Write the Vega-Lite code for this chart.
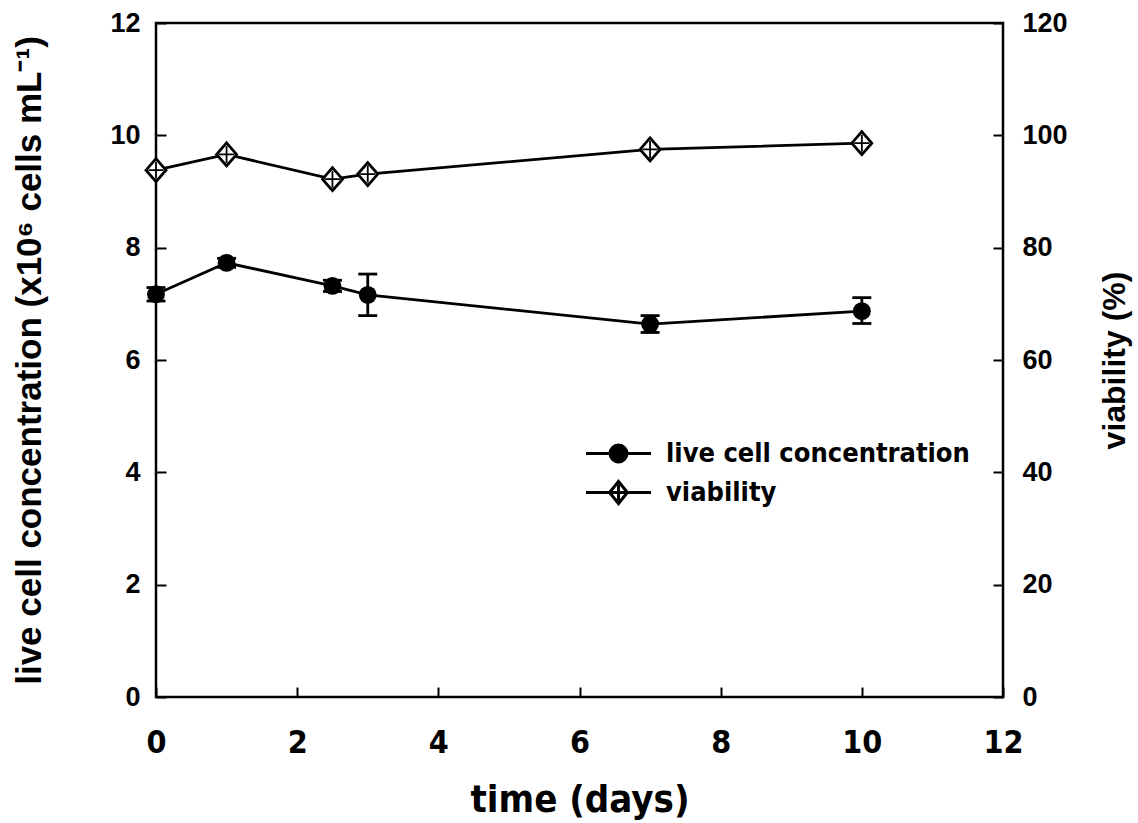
{
  "$schema": "https://vega.github.io/schema/vega-lite/v6.json",
  "width": 847,
  "height": 674,
  "autosize": "none",
  "padding": {"left": 156, "top": 23, "right": 135, "bottom": 126},
  "background": "white",
  "config": {
    "view": {"stroke": "black", "strokeWidth": 2.5},
    "axis": {
      "domain": false,
      "grid": false,
      "ticks": true,
      "tickColor": "black",
      "tickWidth": 2,
      "tickSize": -10,
      "labelFlush": false,
      "labelColor": "black",
      "titleColor": "black",
      "labelFont": "Liberation Sans",
      "labelFontWeight": "bold",
      "labelFontSize": 27,
      "titleFont": "Liberation Sans",
      "titleFontWeight": "bold",
      "titleFontSize": 35,
      "format": "d"
    },
    "legend": {
      "orient": "none",
      "legendX": 445,
      "legendY": 413,
      "padding": 0,
      "symbolSize": 1024,
      "symbolStrokeColor": "black",
      "symbolStrokeWidth": 3,
      "symbolOpacity": 1,
      "labelOffset": 30,
      "rowPadding": 7,
      "labelFont": "DejaVu Sans Condensed, Liberation Sans",
      "labelFontWeight": "bold",
      "labelFontSize": 27,
      "labelColor": "black",
      "labelLimit": 0
    }
  },
  "datasets": {
    "culture": [
      {"day": 0, "conc": 7.17, "conc_lo": 7.05, "conc_hi": 7.29, "viab": 93.8},
      {"day": 1, "conc": 7.73, "conc_lo": 7.65, "conc_hi": 7.81, "viab": 96.6},
      {"day": 2.5, "conc": 7.32, "conc_lo": 7.22, "conc_hi": 7.42, "viab": 92.2},
      {"day": 3, "conc": 7.16, "conc_lo": 6.79, "conc_hi": 7.53, "viab": 93.1},
      {"day": 7, "conc": 6.64, "conc_lo": 6.49, "conc_hi": 6.79, "viab": 97.5},
      {"day": 10, "conc": 6.87, "conc_lo": 6.65, "conc_hi": 7.11, "viab": 98.6}
    ],
    "series": [
      {"series": "live cell concentration"},
      {"series": "viability"}
    ]
  },
  "data": {"name": "culture"},
  "encoding": {
    "x": {
      "field": "day",
      "type": "quantitative",
      "scale": {"domain": [0, 12], "nice": false, "zero": false},
      "axis": {
        "title": "time (days)",
        "values": [0, 2, 4, 6, 8, 10, 12],
        "labelFont": "DejaVu Sans Condensed, Liberation Sans",
        "labelFontSize": 32,
        "labelPadding": 40,
        "titleFont": "DejaVu Sans Condensed, Liberation Sans",
        "titleFontSize": 38,
        "titlePadding": 23
      }
    }
  },
  "layer": [
    {
      "layer": [
        {
          "mark": {"type": "line", "color": "black", "strokeWidth": 2.8},
          "encoding": {
            "y": {
              "field": "conc",
              "type": "quantitative",
              "title": "live cell concentration (x10⁶ cells mL⁻¹)",
              "scale": {"domain": [0, 12], "nice": false},
              "axis": {
                "orient": "left",
                "values": [0, 2, 4, 6, 8, 10, 12],
                "labelPadding": 26,
                "titlePadding": 62
              }
            }
          }
        },
        {
          "mark": {
            "type": "errorbar",
            "color": "black",
            "opacity": 1,
            "ticks": {"size": 19, "thickness": 2.8, "color": "black", "opacity": 1},
            "rule": {"strokeWidth": 2.8, "color": "black", "opacity": 1}
          },
          "encoding": {
            "y": {"field": "conc_lo", "type": "quantitative", "title": "live cell concentration (x10⁶ cells mL⁻¹)"},
            "y2": {"field": "conc_hi"}
          }
        },
        {
          "mark": {"type": "point", "shape": "circle", "filled": true, "color": "black", "opacity": 1, "size": 320},
          "encoding": {"y": {"field": "conc", "type": "quantitative", "title": "live cell concentration (x10⁶ cells mL⁻¹)"}}
        }
      ]
    },
    {
      "layer": [
        {
          "mark": {"type": "line", "color": "black", "strokeWidth": 2.8},
          "encoding": {
            "y": {
              "field": "viab",
              "type": "quantitative",
              "title": "viability (%)",
              "scale": {"domain": [0, 120], "nice": false},
              "axis": {
                "orient": "right",
                "values": [0, 20, 40, 60, 80, 100, 120],
                "labelPadding": 29,
                "titlePadding": 64,
                "titleFontSize": 32,
                "titleAngle": 270
              }
            }
          }
        },
        {
          "mark": {
            "type": "point",
            "shape": "M0,-1.15L1,0L0,1.15L-1,0Z",
            "filled": false,
            "fill": "white",
            "fillOpacity": 1,
            "stroke": "black",
            "strokeWidth": 2.8,
            "opacity": 1,
            "size": 400
          },
          "encoding": {"y": {"field": "viab", "type": "quantitative"}}
        },
        {
          "mark": {
            "type": "point",
            "shape": "M-0.75,0H0.75M0,-0.85V0.85",
            "filled": false,
            "stroke": "black",
            "strokeWidth": 1.8,
            "opacity": 1,
            "size": 400
          },
          "encoding": {"y": {"field": "viab", "type": "quantitative"}}
        }
      ]
    },
    {
      "data": {"name": "series"},
      "mark": {"type": "point", "filled": true, "opacity": 0, "strokeWidth": 3, "stroke": "black"},
      "encoding": {
        "x": {"value": 0},
        "y": {"value": 0},
        "shape": {
          "field": "series",
          "type": "nominal",
          "title": null,
          "scale": {
            "domain": ["live cell concentration", "viability"],
            "range": [
              "M-2.03,0H2.03M0.53,0A0.53,0.53 0 1 1 -0.53,0A0.53,0.53 0 1 1 0.53,0Z",
              "M-2.03,0H2.03M0,-0.69L0.56,0L0,0.69L-0.56,0ZM-0.56,0H0.56M0,-0.5V0.5"
            ]
          }
        },
        "fill": {
          "field": "series",
          "type": "nominal",
          "title": null,
          "scale": {
            "domain": ["live cell concentration", "viability"],
            "range": ["black", "white"]
          },
          "legend": {
            "encode": {
              "symbols": {
                "update": {
                  "stroke": {"value": "black"},
                  "strokeWidth": {"value": 3},
                  "opacity": {"value": 1},
                  "strokeOpacity": {"value": 1},
                  "fillOpacity": {"value": 1}
                }
              }
            }
          }
        }
      }
    }
  ],
  "resolve": {"scale": {"y": "independent", "shape": "shared", "fill": "shared"}}
}
